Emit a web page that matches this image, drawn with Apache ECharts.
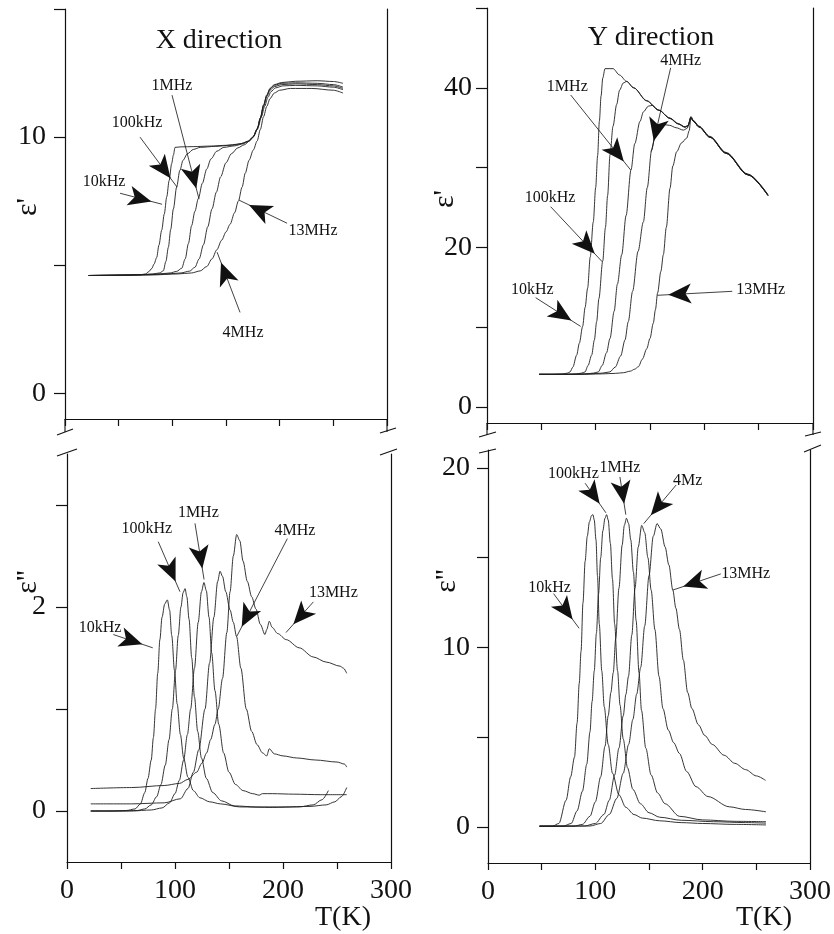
<!DOCTYPE html>
<html>
<head>
<meta charset="utf-8">
<title>Dielectric permittivity vs temperature</title>
<script src="https://cdn.jsdelivr.net/npm/echarts@6/dist/echarts.min.js"></script>
<style>
  html, body { margin: 0; padding: 0; background: #fff; }
  #main { width: 834px; height: 934px; }
</style>
</head>
<body>
<div id="main"></div>
<script>
// measuring frequencies, same order in every panel
var freqs = ['10kHz', '100kHz', '1MHz', '4MHz', '13MHz'];

// tick values and tick labels
var xTicks = [0, 50, 100, 150, 200, 250, 300];
var xTickLabels = [0, 100, 200, 300];
var yTicksXReal = [0, 5, 10, 15];
var yLabelsXReal = [0, 10];
var yTicksYReal = [0, 10, 20, 30, 40, 50];
var yLabelsYReal = [0, 20, 40];
var yTicksXImag = [0, 1, 2, 3];
var yLabelsXImag = [0, 2];
var yTicksYImag = [0, 5, 10, 15, 20];
var yLabelsYImag = [0, 10, 20];

// X direction, eps'  [T(K), value]
var xReal10k = [[22,4.6],[40,4.6],[55,4.61],[70,4.63],[75,4.66],[78,4.75],[80.8,4.87],[83,5.05],[85.4,5.3],[87.5,5.78],[90.1,6.37],[92.5,7.0],[94.8,7.67],[97,8.3],[99.4,8.97],[101,9.3],[102.5,9.6],[108,9.62],[120,9.63],[135,9.65],[150,9.68],[162,9.73],[170,9.82],[175,9.98],[179,10.3],[182,10.75],[185,11.25],[188,11.65],[191,11.9],[195,12.05],[202,12.13],[215,12.18],[235,12.2],[250,12.17],[259,12.1]];
var xReal100k = [[22,4.6],[50,4.61],[70,4.63],[82,4.66],[88,4.7],[91.6,4.78],[94,5.15],[96.3,5.7],[98.5,6.4],[101,7.2],[104,8.05],[107,8.7],[110,9.1],[114,9.35],[119.6,9.52],[126,9.6],[140,9.64],[155,9.68],[165,9.75],[171,9.85],[175,10.0],[179,10.3],[182,10.75],[185,11.25],[188,11.62],[191,11.88],[195,12.02],[202,12.1],[215,12.12],[235,12.1],[250,12.05],[259,11.95]];
var xReal1M = [[22,4.6],[60,4.62],[85,4.65],[98,4.7],[104,4.76],[108.7,4.88],[112,5.25],[115,5.85],[118,6.55],[121,7.1],[124.2,7.6],[128,8.2],[132,8.75],[136,9.15],[141.4,9.45],[148,9.6],[158,9.66],[166,9.74],[171,9.84],[175,10.0],[179,10.3],[182,10.72],[185,11.2],[188,11.58],[191,11.83],[195,11.97],[202,12.05],[215,12.08],[235,12.05],[250,12.0],[259,11.9]];
var xReal4M = [[22,4.6],[70,4.62],[95,4.66],[108,4.7],[116,4.77],[121,4.92],[125,5.25],[129,5.8],[133,6.5],[137,7.2],[141,7.85],[145,8.45],[150,9.0],[155,9.35],[161,9.58],[167,9.7],[172,9.85],[176,10.05],[180,10.4],[183,10.8],[186,11.2],[189,11.55],[192,11.78],[196,11.92],[203,12.0],[215,12.02],[235,12.0],[250,11.95],[259,11.85]];
var xReal13M = [[22,4.6],[80,4.62],[105,4.66],[118,4.7],[126,4.78],[132,4.95],[137,5.25],[141.4,5.6],[146,5.98],[150,6.3],[153.8,6.6],[158,7.05],[161.5,7.5],[165,8.05],[168,8.6],[171.5,9.1],[175.5,9.5],[179,9.85],[182,10.3],[185,10.8],[188,11.2],[191,11.5],[195,11.72],[200,11.83],[210,11.9],[230,11.9],[250,11.83],[259,11.72]];

// Y direction, eps'
var yReal10k = [[48,4.1],[60,4.1],[70,4.15],[74,4.25],[76.4,4.4],[79,5.0],[82.5,6.5],[85,8.0],[88,10.1],[90.3,12.5],[92.6,14.9],[95,18.8],[97.8,23.2],[100,27.5],[101.8,31.5],[103.4,35.8],[105,39.0],[106.5,41.2],[108.6,42.4],[116,42.4],[122,41.6],[128.5,40.8],[135,40.0],[147,38.4],[158,37.2],[168.4,36.2],[176,35.5],[182.2,35.1],[185,35.3],[187.7,36.4],[190,35.9],[195,35.2],[205.2,33.9],[220,31.9],[240,29.2],[258.6,26.6]];
var yReal100k = [[48,4.1],[70,4.1],[82,4.15],[87,4.25],[90.2,4.4],[93,5.2],[96.3,6.5],[98.8,8.4],[100.9,10.7],[103,13.6],[106.5,18.3],[109,22.5],[111,26.5],[113.2,31.6],[116,35.2],[119.3,37.9],[122,39.7],[125.4,40.6],[128.5,40.8],[135,40.0],[147,38.35],[158,37.2],[168.4,36.2],[176,35.5],[182.2,35.1],[185,35.25],[187.7,36.3],[190,35.85],[195,35.15],[205.2,33.85],[220,31.85],[240,29.15],[258.6,26.55]];
var yReal1M = [[48,4.1],[75,4.1],[90,4.15],[98,4.25],[102.4,4.4],[106,5.2],[110,6.8],[113.2,8.6],[117,12.0],[120,15.4],[124,19.1],[128,24.0],[132.5,29.7],[136,33.0],[140.8,35.8],[144,37.0],[148.5,37.7],[152,37.8],[158,37.2],[168.4,36.15],[176,35.45],[182.2,35.05],[185,35.2],[187.7,36.3],[190,35.8],[195,35.1],[205.2,33.8],[220,31.8],[240,29.1],[258.6,26.5]];
var yReal4M = [[48,4.1],[80,4.1],[95,4.15],[106,4.25],[113,4.4],[118,5.0],[123,6.4],[127,8.4],[130,10.7],[134,14.5],[139,19.5],[143.9,23.2],[147.5,27.5],[151.5,32.2],[155,34.2],[158.5,35.1],[162,35.4],[168,35.3],[174,35.0],[180.7,34.7],[184,34.9],[187.7,36.2],[190,35.8],[195,35.1],[205.2,33.8],[220,31.8],[240,29.1],[258.6,26.5]];
var yReal13M = [[48,4.1],[85,4.1],[105,4.15],[118,4.22],[125.4,4.3],[132,4.5],[136,4.75],[139.3,5.05],[143,6.0],[147,7.3],[150,8.6],[153,10.5],[155,12.2],[157,14.3],[160,17.0],[162.3,19.1],[165,22.5],[168.4,27.4],[171,30.2],[174.6,32.0],[179,33.1],[183.8,33.7],[186,34.6],[187.7,36.2],[190,35.8],[195,35.1],[205.2,33.8],[220,31.8],[240,29.1],[258.6,26.5]];

// X direction, eps''
var xImag10k = [[22,0.0],[40,0.0],[55,0.005],[63,0.02],[68,0.07],[72,0.18],[75,0.32],[78,0.5],[80,0.72],[82,1.0],[84,1.35],[86,1.68],[88,1.9],[90.5,2.03],[92.9,2.07],[95,1.97],[97,1.72],[99.5,1.38],[102,1.05],[105,0.75],[108,0.52],[112,0.33],[117,0.2],[123,0.13],[132,0.09],[142,0.07],[160,0.04],[190,0.035],[215,0.04],[228,0.06],[236,0.11],[242,0.2]];
var xImag100k = [[22,0.0],[50,0.0],[65,0.005],[72,0.02],[78,0.06],[83,0.14],[87,0.26],[91,0.45],[94.5,0.7],[97.5,1.0],[100.5,1.38],[103,1.72],[105.5,2.0],[107.5,2.14],[109.3,2.18],[111,2.1],[113,1.88],[115.5,1.5],[118,1.12],[121,0.78],[124.5,0.52],[129,0.32],[135,0.18],[143,0.1],[155,0.05],[175,0.04],[200,0.04],[225,0.045],[240,0.06],[248,0.09],[254,0.14],[259,0.23]];
var xImag1M = [[22,0.0],[60,0.0],[78,0.01],[88,0.03],[95,0.08],[100,0.17],[104,0.3],[108,0.5],[111.5,0.75],[114.5,1.0],[118,1.4],[121.5,1.85],[124.5,2.15],[126.8,2.24],[129,2.16],[131.5,1.9],[134,1.55],[137,1.18],[140.5,0.85],[145,0.57],[150,0.38],[156,0.26],[163,0.2],[172,0.17],[178,0.155],[181,0.17],[190,0.17],[210,0.165],[235,0.16],[259,0.16]];
var xImag4M = [[22,0.07],[60,0.07],[90,0.08],[105,0.12],[112,0.22],[117,0.38],[122,0.6],[127.8,1.0],[132,1.45],[136,1.9],[139.5,2.25],[141.7,2.35],[144,2.3],[147,2.15],[151,1.97],[154,1.85],[157,1.71],[161,1.4],[166,1.0],[171,0.78],[176,0.65],[181,0.57],[184.9,0.54],[187.3,0.61],[192,0.56],[200,0.54],[212.6,0.52],[230,0.5],[250,0.48],[257,0.46],[259,0.43]];
var xImag13M = [[22,0.22],[60,0.23],[90,0.25],[104,0.27],[112,0.31],[120,0.38],[125,0.47],[129.3,0.57],[133,0.7],[137,0.85],[140,1.0],[144,1.3],[148,1.75],[151,2.15],[154,2.5],[157.1,2.71],[160,2.65],[163,2.45],[167,2.25],[171,2.1],[175,1.98],[179,1.83],[183.3,1.73],[185,1.78],[187.3,1.86],[190,1.8],[195,1.74],[203,1.68],[215,1.6],[228,1.51],[240,1.46],[252.8,1.42],[256,1.4],[259,1.35]];

// Y direction, eps''
var yImag10k = [[48,0.05],[60,0.05],[66,0.2],[72.8,1.5],[77,2.8],[80.6,3.9],[83,5.8],[85,8.0],[86.7,9.8],[88.5,12.5],[90.5,14.8],[92.5,16.2],[94.5,17.0],[96.5,17.35],[97.8,17.4],[99,17.1],[100.6,16.0],[102,14.0],[103.7,11.3],[106,8.7],[108.3,6.7],[112,4.6],[116,3.0],[122,1.8],[128.4,1.1],[136,0.7],[143.8,0.5],[160,0.35],[180,0.25],[200,0.2],[230,0.15],[259,0.12]];
var yImag100k = [[48,0.05],[70,0.05],[77.5,0.2],[83,0.9],[88,2.0],[92,3.5],[95,5.3],[97,7.0],[99,8.7],[101,10.8],[103,13.0],[105,15.0],[107,16.5],[109,17.2],[110.5,17.4],[112,17.1],[114,15.8],[116,13.8],[118,11.3],[120.7,8.7],[123,6.8],[126,4.9],[130,3.3],[135,2.1],[142,1.3],[150,0.8],[160,0.55],[180,0.38],[210,0.3],[240,0.25],[259,0.22]];
var yImag1M = [[48,0.05],[80,0.05],[88,0.15],[95,0.6],[100,1.4],[105,2.8],[109,4.5],[112,6.2],[114.5,7.5],[116.7,8.6],[119,10.5],[122,13.3],[125,15.7],[127,16.8],[129,17.2],[131,16.9],[133,16.0],[135.5,14.2],[138,11.5],[140.7,8.6],[143,6.5],[147,4.4],[152,2.9],[158,1.9],[165,1.3],[178.4,0.6],[200,0.4],[230,0.32],[259,0.3]];
var yImag4M = [[48,0.05],[90,0.06],[100,0.2],[108,0.7],[113,1.5],[118,2.9],[122,4.4],[126,6.2],[128.5,7.4],[130.9,8.4],[134,10.7],[137,13.3],[140,15.6],[143.2,16.8],[146,16.4],[149,15.0],[152,13.2],[155.5,11.0],[159.3,8.4],[163,6.6],[168,5.4],[173,4.7],[178.4,4.1],[185,3.1],[193.8,2.25],[205,1.7],[224.7,1.13],[240,0.98],[259,0.85]];
var yImag13M = [[48,0.05],[95,0.06],[105,0.2],[113,0.7],[120,1.6],[126,3.0],[131,4.6],[135,6.0],[138.5,7.4],[142.3,8.9],[146,11.2],[150,14.0],[154,16.2],[157.5,16.9],[161,16.6],[165,15.6],[168.5,14.6],[172.2,13.2],[175,12.2],[178.4,11.0],[182,9.3],[186,7.5],[190,6.6],[196,5.7],[202,5.1],[209,4.6],[220,4.0],[230,3.55],[240,3.2],[250,2.85],[258.6,2.6]];

// annotations: label position, arrow start, arrow tip (data coordinates)
var notesXReal = [
  { text: '1MHz',   at: [99.7, 12.0],  from: [99.7, 11.64], to: [124.9, 7.58] },
  { text: '100kHz', at: [67.1, 10.55], from: [69.9, 10.0],  to: [104.4, 8.05] },
  { text: '10kHz',  at: [36.3, 8.24],  from: [51.3, 7.81],  to: [90.4, 7.38] },
  { text: '13MHz',  at: [231.1, 6.33], from: [206.9, 6.64], to: [162.2, 7.54] },
  { text: '4MHz',   at: [165.9, 2.38], from: [163.1, 3.16], to: [141.7, 5.51] }
];
var notesYReal = [
  { text: '4MHz',   at: [178.2, 43.4], from: [169, 42.5],   to: [151.2, 32.0] },
  { text: '1MHz',   at: [73.9, 40.1],  from: [77, 39.1],    to: [132.2, 29.7] },
  { text: '100kHz', at: [58, 26.2],    from: [58.6, 25.1],  to: [106.1, 18.2] },
  { text: '10kHz',  at: [41.7, 14.7],  from: [44.8, 13.7],  to: [86.2, 10.1] },
  { text: '13MHz',  at: [251.9, 14.7], from: [225.7, 14.5], to: [156.7, 14.0] }
];
var notesXImag = [
  { text: '100kHz', at: [73.8, 2.77],  from: [84.5, 2.64],  to: [104.6, 2.15] },
  { text: '1MHz',   at: [121.6, 2.92], from: [118.5, 2.82], to: [126.9, 2.27] },
  { text: '4MHz',   at: [211.1, 2.75], from: [204, 2.67],   to: [157.1, 1.71] },
  { text: '13MHz',  at: [246.6, 2.14], from: [228.1, 2.05], to: [202.8, 1.75] },
  { text: '10kHz',  at: [30.6, 1.80],  from: [42.9, 1.73],  to: [79.4, 1.60] }
];
var notesYImag = [
  { text: '100kHz', at: [79.6, 19.7],  from: [90.5, 19.15], to: [109.9, 17.5] },
  { text: '1MHz',   at: [122.9, 20.0], from: [122.9, 19.5], to: [128.4, 17.4] },
  { text: '4Mz',    at: [186.1, 19.3], from: [175.3, 19.05], to: [145.1, 16.9] },
  { text: '13MHz',  at: [240.1, 14.1], from: [216.9, 14.1], to: [172.2, 13.2] },
  { text: '10kHz',  at: [57.4, 13.3],  from: [61.1, 13.0],  to: [84.9, 11.07] }
];

var FONT = '"Liberation Serif", "Times New Roman", serif';
var INK = '#111';

var panels = [
  { grid: { left: 65, top: 9, width: 322, height: 410 }, yMin: -1, yMax: 15, ticks: yTicksXReal, labels: yLabelsXReal, margin: 19, xLabels: false,
    data: [xReal10k, xReal100k, xReal1M, xReal4M, xReal13M], notes: notesXReal },
  { grid: { left: 487, top: 8, width: 326, height: 415 }, yMin: -2, yMax: 50, ticks: yTicksYReal, labels: yLabelsYReal, margin: 15, xLabels: false,
    data: [yReal10k, yReal100k, yReal1M, yReal4M, yReal13M], notes: notesYReal },
  { grid: { left: 67, top: 454, width: 324, height: 408 }, yMin: -0.5, yMax: 3.5, ticks: yTicksXImag, labels: yLabelsXImag, margin: 21, xLabels: true,
    data: [xImag10k, xImag100k, xImag1M, xImag4M, xImag13M], notes: notesXImag },
  { grid: { left: 488, top: 450, width: 324, height: 413 }, yMin: -2, yMax: 21, ticks: yTicksYImag, labels: yLabelsYImag, margin: 18, xLabels: true,
    data: [yImag10k, yImag100k, yImag1M, yImag4M, yImag13M], notes: notesYImag }
];

var axisLineStyle = { color: INK, width: 1.2 };
var grids = [], xAxes = [], yAxes = [], frameAxes = [], series = [];

panels.forEach(function (p, i) {
  grids.push(p.grid);
  xAxes.push({
    gridIndex: i, type: 'value', min: 0, max: 300, interval: 50,
    axisLine: { onZero: false, lineStyle: axisLineStyle },
    axisTick: { length: 7, lineStyle: axisLineStyle },
    splitLine: { show: false },
    axisLabel: {
      show: p.xLabels, margin: 15, fontSize: 28, fontFamily: FONT, color: INK,
      formatter: function (v) { return xTickLabels.indexOf(v) >= 0 ? String(v) : ''; }
    }
  });
  yAxes.push({
    gridIndex: i, type: 'value', min: p.yMin, max: p.yMax,
    axisLine: { show: true, onZero: false, lineStyle: axisLineStyle },
    axisTick: { show: true, length: 11, lineStyle: axisLineStyle, customValues: p.ticks },
    axisLabel: { margin: p.margin, fontSize: 28, fontFamily: FONT, color: INK, customValues: p.labels },
    splitLine: { show: false }
  });
  frameAxes.push({
    gridIndex: i, type: 'value', position: 'right', min: p.yMin, max: p.yMax,
    axisLine: { show: true, onZero: false, lineStyle: axisLineStyle },
    axisTick: { show: false }, axisLabel: { show: false }, splitLine: { show: false }
  });
  p.data.forEach(function (d, k) {
    var s = {
      type: 'line', name: freqs[k], xAxisIndex: i, yAxisIndex: i, data: d,
      showSymbol: false, smooth: 0.3, smoothMonotone: 'x', silent: true,
      lineStyle: { color: '#1e1e1e', width: 0.9 }
    };
    if (k === 0) {
      s.markLine = {
        silent: true, animation: false,
        symbol: ['none', 'arrow'],
        label: { show: false },
        lineStyle: { color: INK, width: 0.8, type: 'solid' },
        data: p.notes.map(function (n) {
          return [
            { coord: n.from, symbol: 'none' },
            { coord: n.to, symbol: 'arrow', symbolSize: [15, 23], symbolOffset: [0, 11] }
          ];
        })
      };
      s.markPoint = {
        silent: true, animation: false,
        symbol: 'circle', symbolSize: 1,
        itemStyle: { color: 'rgba(0,0,0,0)' },
        label: { show: true, position: 'inside', formatter: '{b}', fontSize: 16, fontFamily: FONT, color: INK },
        data: p.notes.map(function (n) { return { name: n.text, coord: n.at }; })
      };
    }
    series.push(s);
  });
});

function txt(x, y, text, size, rot) {
  return {
    type: 'text', x: x, y: y, rotation: rot || 0, silent: true,
    style: { text: text, fontSize: size, fontFamily: FONT, fill: INK,
      align: 'center', verticalAlign: 'middle', textAlign: 'center', textVerticalAlign: 'middle' }
  };
}
function seg(x1, y1, x2, y2) {
  return { type: 'line', silent: true, shape: { x1: x1, y1: y1, x2: x2, y2: y2 }, style: { stroke: INK, lineWidth: 1.1 } };
}

var graphics = [
  txt(219, 41, 'X direction', 28),
  txt(651, 38, 'Y direction', 28),
  txt(28, 207, "ε'", 30, Math.PI / 2),
  txt(445, 199, "ε'", 30, Math.PI / 2),
  txt(28, 582, "ε''", 30, Math.PI / 2),
  txt(447, 581, "ε''", 30, Math.PI / 2),
  txt(343, 918, 'T(K)', 28),
  txt(764, 918, 'T(K)', 28),
  // axis break: frame lines carried past the x axis, then slashes
  seg(65, 419, 65, 432), seg(387, 419, 387, 432),
  seg(57, 435, 73, 429), seg(380, 433, 396, 428),
  seg(487, 423, 487, 435), seg(813, 423, 813, 435),
  seg(479, 437, 496, 432), seg(805, 436, 821, 432),
  seg(57, 456, 77, 449), seg(380, 455, 397, 449),
  seg(479, 453, 496, 449), seg(804, 452, 821, 445)
];

var chart = echarts.init(document.getElementById('main'), null, { renderer: 'canvas' });
chart.setOption({
  animation: false,
  backgroundColor: '#fff',
  grid: grids,
  xAxis: xAxes,
  yAxis: yAxes.concat(frameAxes),
  series: series,
  graphic: graphics
});
</script>
</body>
</html>
